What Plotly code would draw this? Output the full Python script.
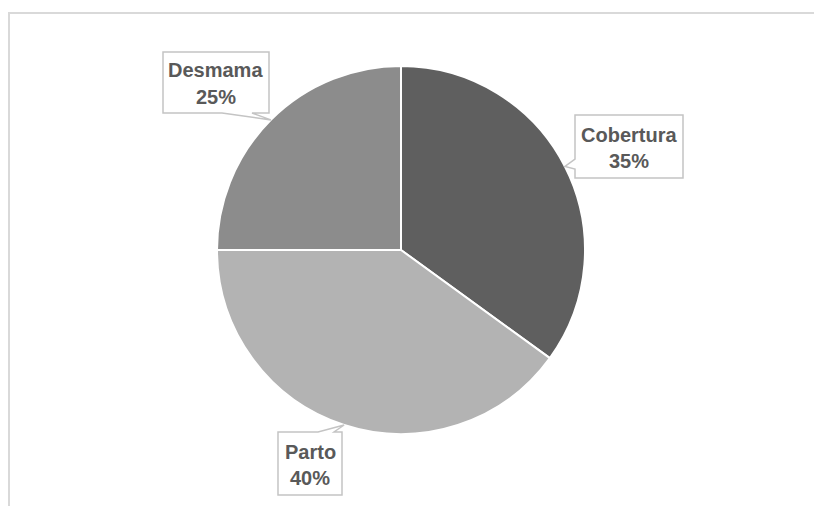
import math
import plotly.graph_objects as go

# Share of events by stage
stages = ["Cobertura", "Parto", "Desmama"]
shares = [35, 40, 25]
slice_colors = ["#5f5f5f", "#b3b3b3", "#8c8c8c"]

W, H = 814, 506
CX, CY, R = 401, 250, 184  # pie centre and radius in pixels


def px(x):
    return x / W


def py(y):
    return 1 - y / H


fig = go.Figure(
    go.Pie(
        labels=stages,
        values=shares,
        sort=False,
        direction="clockwise",
        rotation=0,
        marker=dict(colors=slice_colors, line=dict(color="white", width=2)),
        textinfo="none",
        hoverinfo="label+percent",
        domain=dict(x=[px(CX - R), px(CX + R)], y=[py(CY + R), py(CY - R)]),
        showlegend=False,
    )
)

# mid-angle edge point of each slice (angle measured clockwise from 12 o'clock)
total = sum(shares)
tips = {}
acc = 0
for name, v in zip(stages, shares):
    mid = (acc + v / 2) / total * 2 * math.pi
    tips[name] = (CX + R * math.sin(mid), CY - R * math.cos(mid))
    acc += v

# callout boxes: (x0, y0, x1, y1), side of the tail, tail base span
callouts = {
    "Desmama": ((163, 52, 269, 113), "bottom", (222, 252)),
    "Cobertura": ((575, 115, 683, 178), "left", (159, 169)),
    "Parto": ((278, 432, 342, 495), "top", (318, 334)),
}

label_font = dict(family="Liberation Sans, Arial, sans-serif", size=20, color="#595959")

shapes = [
    # chart frame
    dict(type="rect", xref="paper", yref="paper",
         x0=px(9), y0=-0.2, x1=1.2, y1=py(13),
         line=dict(color="#d9d9d9", width=2), fillcolor="rgba(0,0,0,0)", layer="below"),
]
annotations = []

for name, v in zip(stages, shares):
    (x0, y0, x1, y1), side, (b0, b1) = callouts[name]
    tx, ty = tips[name]
    if side == "bottom":
        pts = [(x0, y0), (x1, y0), (x1, y1), (b1, y1), (tx, ty), (b0, y1), (x0, y1)]
    elif side == "left":
        pts = [(x0, y0), (x1, y0), (x1, y1), (x0, y1), (x0, b1), (tx, ty), (x0, b0)]
    else:  # top
        pts = [(x0, y0), (b0, y0), (tx, ty), (b1, y0), (x1, y0), (x1, y1), (x0, y1)]
    path = "M " + " L ".join(f"{px(a):.5f},{py(b):.5f}" for a, b in pts) + " Z"
    shapes.append(dict(type="path", xref="paper", yref="paper", path=path,
                       fillcolor="white", line=dict(color="#c4c4c4", width=1.5),
                       layer="above"))
    cx, cy = (x0 + x1) / 2, (y0 + y1) / 2
    for text, dy in ((f"<b>{name}</b>", -12), (f"<b>{v}%</b>", 14)):
        annotations.append(dict(
            xref="paper", yref="paper", x=px(cx), y=py(cy + dy),
            xanchor="center", yanchor="middle", showarrow=False,
            text=text, font=label_font,
        ))

fig.update_layout(
    width=W, height=H,
    margin=dict(l=0, r=0, t=0, b=0),
    paper_bgcolor="white", plot_bgcolor="white",
    shapes=shapes, annotations=annotations,
)

fig.write_html("out.html")
